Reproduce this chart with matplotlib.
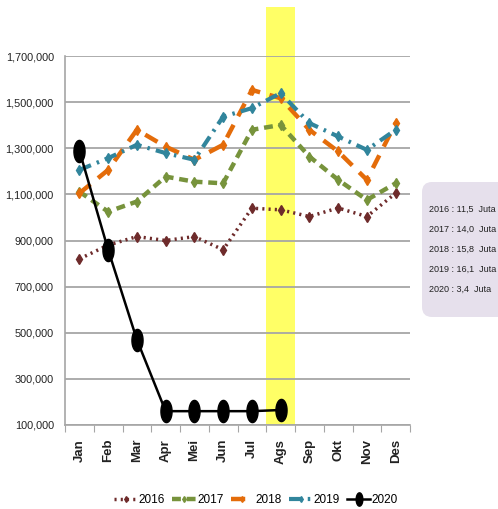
import matplotlib
matplotlib.use("Agg")
import matplotlib.pyplot as plt
import numpy as np
from matplotlib.path import Path
from matplotlib.patches import FancyBboxPatch

months = ["Jan", "Feb", "Mar", "Apr", "Mei", "Jun", "Jul", "Ags", "Sep", "Okt", "Nov", "Des"]
v2016 = [820000, 880000, 917000, 900000, 917000, 860000, 1040000, 1033000, 1004000, 1041000, 1004000, 1105000]
v2017 = [1112000, 1025000, 1069000, 1177000, 1155000, 1148000, 1380000, 1401000, 1264000, 1163000, 1076000, 1148000]
v2018 = [1105000, 1206000, 1380000, 1307000, 1250000, 1315000, 1553000, 1517000, 1380000, 1286000, 1163000, 1409000]
v2019 = [1206000, 1257000, 1315000, 1279000, 1250000, 1437000, 1474000, 1539000, 1409000, 1351000, 1293000, 1380000]
v2020 = [1290000, 860000, 470000, 160000, 160000, 160000, 160000, 165000]
series_names = ["2016", "2017", "2018", "2019", "2020"]
totals = ["2016 : 11,5  Juta", "2017 : 14,0  Juta", "2018 : 15,8  Juta", "2019 : 16,1  Juta", "2020 : 3,4  Juta"]
yticks = [100000, 300000, 500000, 700000, 900000, 1100000, 1300000, 1500000, 1700000]
highlight_month = "Ags"
title_text = "Perbandingan Wisman 2016 - 2020"

sans = ['Liberation Sans', 'DejaVu Sans']

fig = plt.figure(figsize=(4.98, 5.09), dpi=100)
ax = fig.add_axes([65/498, 1-425/509, 345/498, 369/509])

x = np.arange(len(months))
ax.set_xlim(-0.5, len(months) - 0.5)
ax.set_ylim(100000, 1700000)

hi = months.index(highlight_month)
ax.axvspan(hi - 0.5, hi + 0.5, ymin=0, ymax=1 + 49/369, color="#FFFF66", clip_on=False, zorder=0, lw=0)

ax.set_yticks(yticks)
ax.set_yticklabels([f"{v:,}" for v in yticks], family=sans, fontsize=7.8, color="#222222")
ax.yaxis.grid(True, color="#A6A6A6", lw=1.3)
ax.set_axisbelow(True)
ax.tick_params(axis='y', length=0, pad=8)

ax.set_xticks(np.arange(len(months) + 1) - 0.5, minor=False)
ax.set_xticklabels([])
ax.set_xticks(x, minor=True)
ax.set_xticklabels(months, minor=True, rotation=90, fontweight='bold', fontsize=9.5, color="#222222", family=sans)
ax.tick_params(axis='x', which='major', length=5, color="#A6A6A6", direction='out')
ax.tick_params(axis='x', which='minor', length=0, pad=10)

for s in ['top', 'right']:
    ax.spines[s].set_visible(False)
for s in ['left', 'bottom']:
    ax.spines[s].set_color("#A6A6A6")
    ax.spines[s].set_linewidth(1.2)

t = np.linspace(0, 2*np.pi, 40)
ell = Path(np.column_stack([0.5*np.cos(t), np.sin(t)]), closed=True)

ax.plot(x, v2016, color="#6E2B2B", lw=2.5, ls=(0, (0.6, 1.2)), marker='d', ms=5, label=series_names[0], zorder=3)
ax.plot(x, v2017, color="#77933C", lw=3.2, ls=(0, (2, 1.3)), marker='d', ms=5, label=series_names[1], zorder=3)
ax.plot(x, v2018, color="#E46C0A", lw=3.2, ls=(0, (3.2, 2.2)), marker='d', ms=5, label=series_names[2], zorder=3)
ax.plot(x, v2019, color="#31859C", lw=3.0, ls=(0, (3, 1.5, 0.6, 1.5)), marker='d', ms=5, label=series_names[3], zorder=3)
ax.plot(x[:len(v2020)], v2020, color="black", lw=1.8, marker=ell, ms=16, label=series_names[4], zorder=4)

ax.legend(loc='center', bbox_to_anchor=(256/498, 1-500/509), bbox_transform=fig.transFigure,
          ncol=5, frameon=False, prop={'family': sans, 'size': 8.5},
          handlelength=2.0, handletextpad=0.1, columnspacing=0.6, markerscale=0.6,
          borderaxespad=0, borderpad=0)

box = FancyBboxPatch((422/498, 1-317/509), 86/498, 135/509, boxstyle="round,pad=0,rounding_size=0.02",
                     transform=fig.transFigure, facecolor="#E6E0EC", edgecolor="none", clip_on=False)
fig.patches.append(box)
ys = [209, 229, 249, 269, 289]
for yy, tt in zip(ys, totals):
    fig.text(429/498, 1-yy/509, tt, family=sans, fontsize=6.5, va='center', ha='left', color="#222222")

fig.text(268/498, 1+6/509, title_text, family=['Liberation Serif', 'DejaVu Serif'], fontweight='bold',
         fontsize=16, ha='center', va='baseline')

fig.savefig("out.png", dpi=100)
